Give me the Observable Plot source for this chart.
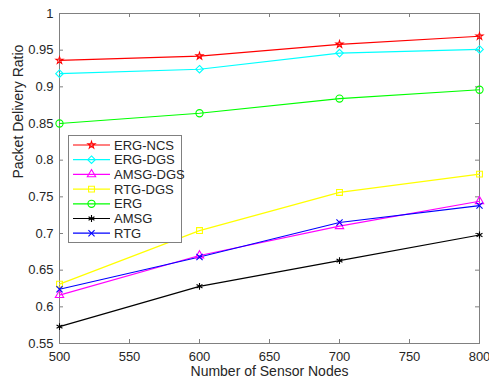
<!DOCTYPE html>
<html>
<head>
<meta charset="utf-8">
<script src="https://cdn.jsdelivr.net/npm/d3@7"></script>
<script src="https://cdn.jsdelivr.net/npm/@observablehq/plot@0.6"></script>
<style>
  html, body { margin: 0; padding: 0; background: #fff; }
  #chart { width: 489px; height: 382px; }
</style>
</head>
<body>
<div id="chart"></div>
<script>
const nodes = [500, 600, 700, 800];
const seriesNames = ["ERG-NCS", "ERG-DGS", "AMSG-DGS", "RTG-DGS", "ERG", "AMSG", "RTG"];
const seriesColors = ["#ff0000", "#00ffff", "#ff00ff", "#ffff00", "#00ff00", "#000000", "#0000ff"];
const seriesSymbols = ["star", "diamond2", "triangle", "square", "circle", "asterisk", "times"];
const ergNcs  = [0.936, 0.942, 0.958, 0.969];
const ergDgs  = [0.918, 0.924, 0.946, 0.951];
const amsgDgs = [0.616, 0.670, 0.710, 0.744];
const rtgDgs  = [0.631, 0.704, 0.756, 0.781];
const erg     = [0.850, 0.864, 0.884, 0.896];
const amsg    = [0.573, 0.628, 0.663, 0.698];
const rtg     = [0.624, 0.668, 0.715, 0.738];
const xTicks = [500, 550, 600, 650, 700, 750, 800];
const yTicks = [0.55, 0.6, 0.65, 0.7, 0.75, 0.8, 0.85, 0.9, 0.95, 1];
const xLabel = "Number of Sensor Nodes";
const yLabel = "Packet Delivery Ratio";

const seriesValues = [ergNcs, ergDgs, amsgDgs, rtgDgs, erg, amsg, rtg];
const data = [];
seriesNames.forEach((name, i) => {
  nodes.forEach((n, j) => data.push({series: name, x: n, y: seriesValues[i][j]}));
});

const W = 489, H = 382;
const mL = 59, mR = 10, mT = 13, mB = 39;
const plotH = H - mT - mB, plotW = W - mL - mR;
const tickLen = 4;
const axisColor = "#808080";
const textColor = "#262626";
const font = "'Liberation Sans', Arial, Helvetica, sans-serif";
// marker radius per symbol (style)
const markerR = {star: 2.2, diamond2: 3.4, triangle: 3.1, square: 3.3, circle: 3.6, asterisk: 3.2, times: 2.9};

const chart = Plot.plot({
  width: W, height: H,
  marginLeft: mL, marginRight: mR, marginTop: mT, marginBottom: mB,
  style: {fontFamily: font, fontSize: "13px", color: textColor, background: "#fff"},
  x: {domain: [500, 800]},
  y: {domain: [0.55, 1]},
  color: {domain: seriesNames, range: seriesColors},
  symbol: {domain: seriesNames, range: seriesSymbols},
  marks: [
    Plot.frame({stroke: axisColor, strokeWidth: 1}),
    Plot.tickX(xTicks, {x: d => d, insetTop: plotH - tickLen, stroke: axisColor}),
    Plot.tickX(xTicks, {x: d => d, insetBottom: plotH - tickLen, stroke: axisColor}),
    Plot.tickY(yTicks, {y: d => d, insetRight: plotW - tickLen, stroke: axisColor}),
    Plot.tickY(yTicks, {y: d => d, insetLeft: plotW - tickLen, stroke: axisColor}),
    Plot.axisX({ticks: xTicks, tickSize: 0, tickPadding: 8, label: null, fill: textColor}),
    Plot.axisY({ticks: yTicks, tickSize: 0, tickPadding: 6, label: null, fill: textColor,
                tickFormat: d => String(+d.toFixed(2))}),
    Plot.line(data, {x: "x", y: "y", z: "series", stroke: "series", strokeWidth: 1.2}),
    ...seriesNames.map((name, i) =>
      Plot.dot(data.filter(d => d.series === name),
        {x: "x", y: "y", symbol: "series", stroke: "series", fill: "none",
         r: markerR[seriesSymbols[i]], strokeWidth: 1.1})),
    Plot.text([xLabel], {text: d => d, frameAnchor: "bottom", dy: 32, fill: textColor, fontSize: 14}),
    Plot.text([yLabel], {text: d => d, frameAnchor: "left", dx: -41, rotate: -90, fill: textColor, fontSize: 14})
  ]
});
document.getElementById("chart").appendChild(chart);

// Legend inside the axes (MATLAB-style)
const svg = d3.select(chart);
const symMap = {star: d3.symbolStar, diamond2: d3.symbolDiamond2, triangle: d3.symbolTriangle,
  square: d3.symbolSquare, circle: d3.symbolCircle, asterisk: d3.symbolAsterisk, times: d3.symbolTimes};
const lg = svg.append("g").attr("transform", "translate(68,135)");
const rowH = 14.7;
lg.append("rect").attr("x", 0.5).attr("y", 0.5).attr("width", 113).attr("height", 107)
  .attr("fill", "#fff").attr("stroke", axisColor);
seriesNames.forEach((name, i) => {
  const cy = 10 + i * rowH;
  const r = markerR[seriesSymbols[i]];
  const g = lg.append("g");
  g.append("line").attr("x1", 5).attr("x2", 42).attr("y1", cy).attr("y2", cy)
    .attr("stroke", seriesColors[i]).attr("stroke-width", 1.2);
  g.append("path").attr("d", d3.symbol(symMap[seriesSymbols[i]], Math.PI * r * r)())
    .attr("transform", `translate(23.5,${cy})`)
    .attr("fill", "none").attr("stroke", seriesColors[i]).attr("stroke-width", 1.1);
  g.append("text").attr("x", 46).attr("y", cy).attr("dy", "0.35em")
    .attr("text-anchor", "start")
    .attr("fill", textColor).attr("font-size", 13).attr("font-family", font).text(name);
});
</script>
</body>
</html>
